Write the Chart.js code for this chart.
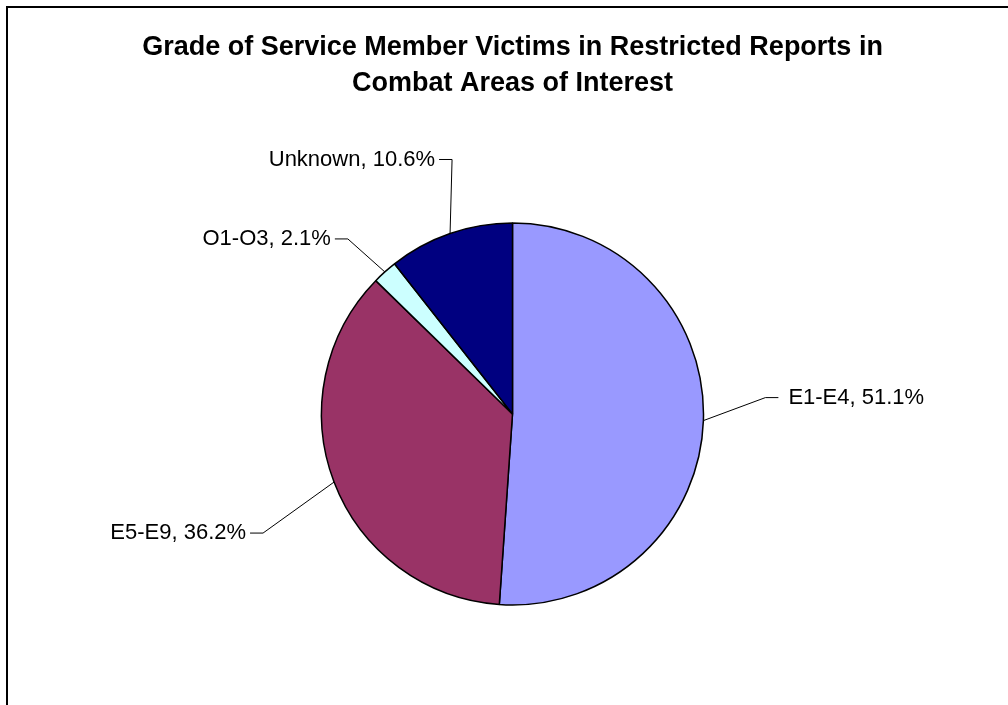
<!DOCTYPE html>
<html>
<head>
<meta charset="utf-8">
<title>Grade of Service Member Victims in Restricted Reports in Combat Areas of Interest</title>
<script src="https://cdn.jsdelivr.net/npm/chart.js@4.4.1/dist/chart.umd.min.js"></script>
<style>
  html, body { margin: 0; padding: 0; background: #fff; overflow: hidden; }
  #frame {
    position: absolute; left: 6px; top: 6px;
    width: 1100px; height: 800px;
    border: 2px solid #000;
  }
  #wrap { position: absolute; left: 0; top: 0; width: 1008px; height: 705px; }
</style>
</head>
<body>
<div id="frame"></div>
<div id="wrap"><canvas id="chart"></canvas></div>
<script>
// Data.
const titleLines = [
  "Grade of Service Member Victims in Restricted Reports in",
  "Combat Areas of Interest",
];
const grades = ["E1-E4", "E5-E9", "O1-O3", "Unknown"];
const shares = [51.1, 36.2, 2.1, 10.6];
const sliceColors = ["#9999FF", "#993366", "#CCFFFF", "#000080"];

const FONT = "'Liberation Sans', Arial, sans-serif";

// Leader line layout, relative to the mid-angle point on the slice rim:
// a knee at (dx, dy), then a short horizontal tail towards the label.
const leaders = [
  { dx: 62, dy: -23, side: 1 },
  { dx: -71, dy: 51, side: -1 },
  { dx: -37, dy: -33, side: -1 },
  { dx: 2, dy: -74, side: -1 },
];
const TAIL = 13;
const GAP = { left: 4, right: 10 };

// Excel-style outside labels: "Name, 12.3%" with a bent leader line.
const leaderLabels = {
  id: "leaderLabels",
  afterDatasetsDraw(chart) {
    const { ctx } = chart;
    const arcs = chart.getDatasetMeta(0).data;
    ctx.save();
    ctx.font = `22px ${FONT}`;
    ctx.textBaseline = "middle";
    ctx.strokeStyle = "#000";
    ctx.fillStyle = "#000";
    ctx.lineWidth = 1;
    arcs.forEach((arc, i) => {
      const { x, y, startAngle, endAngle, outerRadius } = arc.getProps(
        ["x", "y", "startAngle", "endAngle", "outerRadius"], true);
      const mid = (startAngle + endAngle) / 2;
      const ax = x + Math.cos(mid) * outerRadius;
      const ay = y + Math.sin(mid) * outerRadius;
      const p = leaders[i];
      const kx = ax + p.dx;
      const ky = ay + p.dy;
      const tx = kx + p.side * TAIL;
      ctx.beginPath();
      ctx.moveTo(ax, ay);
      ctx.lineTo(kx, ky);
      ctx.lineTo(tx, ky);
      ctx.stroke();
      const text = `${grades[i]}, ${shares[i].toFixed(1)}%`;
      if (p.side > 0) {
        ctx.textAlign = "left";
        ctx.fillText(text, tx + GAP.right, ky);
      } else {
        ctx.textAlign = "right";
        ctx.fillText(text, tx - GAP.left, ky);
      }
    });
    ctx.restore();
  },
};

new Chart(document.getElementById("chart"), {
  type: "pie",
  data: {
    labels: grades,
    datasets: [{
      data: shares,
      backgroundColor: sliceColors,
      borderColor: "#000",
      borderWidth: 1.5,
      radius: 191,
    }],
  },
  options: {
    responsive: true,
    maintainAspectRatio: false,
    animation: false,
    layout: { padding: { left: 17, top: 0, right: 0, bottom: 0 } },
    plugins: {
      legend: { display: false },
      tooltip: { enabled: false },
      title: {
        display: true,
        text: titleLines,
        color: "#000",
        font: { family: FONT, size: 27, weight: "bold", lineHeight: 36 / 27 },
        padding: { top: 30, bottom: 21 },
      },
    },
  },
  plugins: [leaderLabels],
});
</script>
</body>
</html>
